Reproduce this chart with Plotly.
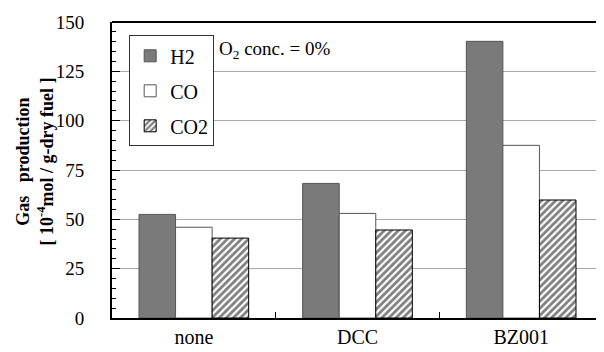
import plotly.graph_objects as go

categories = ["none", "DCC", "BZ001"]
h2 = [52.5, 68.2, 140.2]
co = [46.0, 53.0, 87.5]
co2 = [40.5, 44.6, 59.8]
y_ticks = [0, 25, 50, 75, 100, 125, 150]

FONT = "Liberation Serif"

fig = go.Figure()
fig.add_trace(go.Bar(name="H2", x=categories, y=h2, legendgroup="a",
                     marker=dict(color="#7a7a7a", line=dict(color="#555555", width=1))))
fig.add_trace(go.Bar(name="CO", x=categories, y=co, legendgroup="b",
                     marker=dict(color="white", line=dict(color="#555555", width=1))))
fig.add_trace(go.Bar(name="CO2", x=categories, y=co2, legendgroup="c",
                     marker=dict(color="white", line=dict(color="black", width=1),
                                 pattern=dict(shape="/", fgcolor="black", bgcolor="white",
                                              size=5, solidity=0.55))))

fig.update_layout(
    width=596, height=344,
    margin=dict(l=104, r=1, t=14, b=34),
    paper_bgcolor="white", plot_bgcolor="white",
    barmode="group", bargap=0.33, bargroupgap=0,
    font=dict(family=FONT, size=19, color="black"),
    showlegend=True,
    legend=dict(x=0.035, y=0.955, xanchor="left", yanchor="top",
                bordercolor="#333333", borderwidth=1, bgcolor="white",
                font=dict(size=20, family=FONT), tracegroupgap=6,
                itemwidth=30),
    annotations=[
        dict(x=0.214, y=0.905, xref="paper", yref="paper", xanchor="left", yanchor="middle",
             text="O<sub>2</sub> conc. = 0%", showarrow=False,
             font=dict(size=19, family=FONT)),
        dict(x=-0.158, y=0.53, xref="paper", yref="paper", xanchor="center", yanchor="middle",
             textangle=-90, showarrow=False,
             text="<b>Gas   production<br>[ 10<sup>-4</sup>mol / g-dry fuel ]</b>",
             font=dict(size=18, family=FONT)),
    ],
)
fig.update_xaxes(showline=True, linecolor="black", linewidth=2, mirror=False,
                 ticks="inside", tickson="boundaries", ticklen=6, tickcolor="black",
                 tickfont=dict(size=20, family=FONT), showgrid=False)
fig.update_yaxes(range=[0, 150], tickvals=y_ticks, showline=True, linecolor="black", linewidth=2,
                 ticks="inside", ticklen=8, tickcolor="black",
                 minor=dict(ticks="inside", dtick=5, ticklen=4, tickcolor="black", showgrid=False),
                 showgrid=True, gridcolor="#aaaaaa", gridwidth=1, zeroline=False,
                 tickfont=dict(size=19, family=FONT), ticklabelstandoff=22)
# top border
fig.add_shape(type="line", xref="paper", yref="paper", x0=0, x1=1, y0=1, y1=1,
              line=dict(color="black", width=2))
fig.write_html("out.html")
